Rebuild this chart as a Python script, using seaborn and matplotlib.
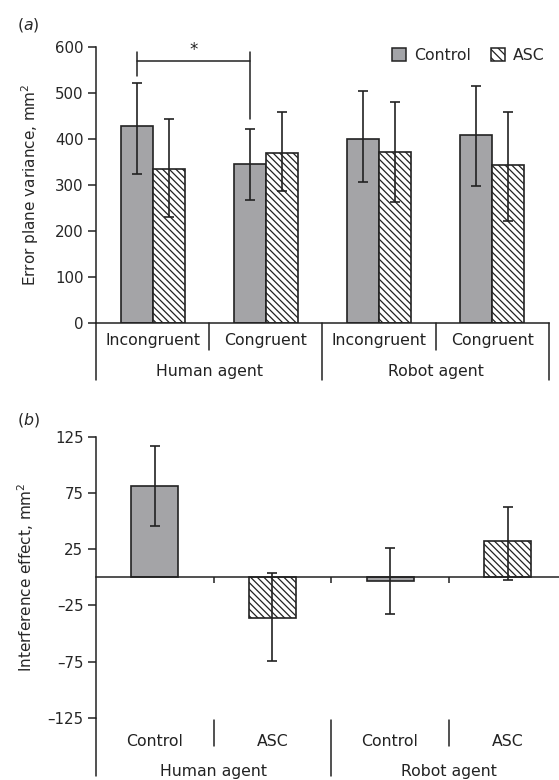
import numpy as np
import pandas as pd
import seaborn as sns
import matplotlib.pyplot as plt
from matplotlib.patches import Patch

# ---- data ----
groups = ['Control', 'ASC']
keys_a = ['H-Inc', 'H-Con', 'R-Inc', 'R-Con']
cond_labels = ['Incongruent', 'Congruent', 'Incongruent', 'Congruent']
agent_labels = ['Human agent', 'Robot agent']

control_a = [427, 345, 400, 407]
control_a_lo = [324, 267, 305, 298]
control_a_hi = [522, 422, 503, 515]
asc_a = [335, 370, 371, 342]
asc_a_lo = [229, 286, 262, 221]
asc_a_hi = [443, 459, 480, 459]

keys_b = ['H-Control', 'H-ASC', 'R-Control', 'R-ASC']
group_b = ['Control', 'ASC', 'Control', 'ASC']
effect_b = [81, -36, -3.5, 32]
effect_b_lo = [46, -74, -33, -2.3]
effect_b_hi = [117, 4, 26.5, 62.6]

sig_level = 568
sig_top = 588
sig_ends = [537, 443]

# ---- style ----
sns.set_style('ticks')
plt.rcParams['font.family'] = ['DejaVu Sans']
plt.rcParams['hatch.linewidth'] = 0.9
plt.rcParams['hatch.color'] = '#222222'
gray = '#a3a4a8'
ink = '#222222'
hatch = '\\' * 5
palette = {'Control': gray, 'ASC': 'white'}

fig = plt.figure(figsize=(5.59, 7.8), dpi=100)
ax1 = fig.add_axes([0.1717, 0.5863, 0.81, 0.3538])
ax2 = fig.add_axes([0.1717, 0.0795, 0.8417, 0.3606])

# ---- panel (a) ----
df_a = pd.DataFrame({
    'key': keys_a * 2,
    'group': ['Control'] * 4 + ['ASC'] * 4,
    'value': control_a + asc_a,
})
sns.barplot(data=df_a, x='key', y='value', hue='group', order=keys_a,
            hue_order=groups, palette=palette, width=0.565, errorbar=None,
            edgecolor=ink, linewidth=1.2, ax=ax1)
ax1.get_legend().remove()

lows = {'Control': control_a_lo, 'ASC': asc_a_lo}
highs = {'Control': control_a_hi, 'ASC': asc_a_hi}
vals = {'Control': control_a, 'ASC': asc_a}
centers = {}
for cont, g in zip(ax1.containers, groups):
    xs = [p.get_x() + p.get_width() / 2 for p in cont.patches]
    centers[g] = xs
    if g == 'ASC':
        for p in cont.patches:
            p.set_hatch(hatch)
    v = np.array(vals[g])
    yerr = [v - np.array(lows[g]), np.array(highs[g]) - v]
    ax1.errorbar(xs, v, yerr=yerr, fmt='none', ecolor=ink, elinewidth=1.2,
                 capsize=3.4, capthick=1.2, zorder=5)

# significance bracket between the two human control bars
x0, x1 = centers['Control'][0], centers['Control'][1]
ax1.plot([x0, x1], [sig_level, sig_level], color=ink, lw=1.1)
ax1.plot([x0, x0], [sig_ends[0], sig_top], color=ink, lw=1.1)
ax1.plot([x1, x1], [sig_ends[1], sig_top], color=ink, lw=1.1)
ax1.text((x0 + x1) / 2, sig_top + 4, '*', ha='center', va='center', fontsize=12, color=ink)

ax1.set_xlim(-0.5, 3.5)
ax1.set_ylim(0, 600)
ax1.set_yticks(range(0, 601, 100))
ax1.set_xticks([])
ax1.set_xlabel('')
ax1.set_ylabel('Error plane variance, mm$^2$', fontsize=11, labelpad=10)
ax1.tick_params(axis='y', labelsize=10.8, length=6, width=1.1, color=ink, pad=3)
sns.despine(ax=ax1)
for s in ['left', 'bottom']:
    ax1.spines[s].set_linewidth(1.1)
    ax1.spines[s].set_color(ink)

tr1 = ax1.get_xaxis_transform()
for xb in [-0.5, 1.5, 3.5]:
    ax1.plot([xb, xb], [0, -0.2076], transform=tr1, color=ink, lw=1.1, clip_on=False)
for xb in [0.5, 2.5]:
    ax1.plot([xb, xb], [0, -0.099], transform=tr1, color=ink, lw=1.1, clip_on=False)
for i, lab in enumerate(cond_labels):
    ax1.text(i, -0.066, lab, transform=tr1, ha='center', va='center', fontsize=11.3, color=ink)
for i, lab in enumerate(agent_labels):
    ax1.text(0.5 + 2 * i, -0.178, lab, transform=tr1, ha='center', va='center', fontsize=11.3, color=ink)

handles = [Patch(facecolor=gray, edgecolor=ink, linewidth=1.1),
           Patch(facecolor='white', edgecolor=ink, linewidth=1.1, hatch='\\' * 4)]
ax1.legend(handles, groups, ncol=2, frameon=False, loc='center right',
           bbox_to_anchor=(1.005, 0.97), handlelength=0.9, handleheight=0.9,
           handletextpad=0.5, columnspacing=1.3, fontsize=11.3, borderaxespad=0)

fig.text(0.030, 0.968, '($a$)', fontsize=11.3, va='center', ha='left')

# ---- panel (b) ----
df_b = pd.DataFrame({'key': keys_b, 'group': group_b, 'value': effect_b})
sns.barplot(data=df_b, x='key', y='value', hue='group', order=keys_b,
            hue_order=groups, palette=palette, dodge=False, width=0.4,
            errorbar=None, edgecolor=ink, linewidth=1.2, ax=ax2)
ax2.get_legend().remove()
for cont, g in zip(ax2.containers, groups):
    if g == 'ASC':
        for p in cont.patches:
            p.set_hatch(hatch)

vb = np.array(effect_b)
ax2.errorbar(np.arange(len(keys_b)), vb,
             yerr=[vb - np.array(effect_b_lo), np.array(effect_b_hi) - vb],
             fmt='none', ecolor=ink, elinewidth=1.2, capsize=3.4, capthick=1.2, zorder=5)

ax2.set_xlim(-0.5, 3.5)
ax2.set_ylim(-125, 125)
ax2.set_yticks([125, 75, 25, -25, -75, -125])
ax2.set_yticklabels(['125', '75', '25', '\u201325', '\u201375', '\u2013125'])
ax2.set_xticks([0.5, 1.5, 2.5])
ax2.set_xticklabels([])
ax2.set_xlabel('')
ax2.set_ylabel('Interference effect, mm$^2$', fontsize=11, labelpad=8)
ax2.tick_params(axis='y', labelsize=10.8, length=6, width=1.1, color=ink, pad=3)
ax2.tick_params(axis='x', length=4, width=1.1, color=ink, direction='out')
sns.despine(ax=ax2)
ax2.spines['bottom'].set_position(('data', 0))
for s in ['left', 'bottom']:
    ax2.spines[s].set_linewidth(1.1)
    ax2.spines[s].set_color(ink)

tr2 = ax2.get_xaxis_transform()
ax2.plot([-0.5, -0.5], [0, -0.206], transform=tr2, color=ink, lw=1.1, clip_on=False)
ax2.plot([1.5, 1.5], [-0.007, -0.206], transform=tr2, color=ink, lw=1.1, clip_on=False)
for xb in [0.5, 2.5]:
    ax2.plot([xb, xb], [-0.007, -0.0985], transform=tr2, color=ink, lw=1.1, clip_on=False)
for i, g in enumerate(group_b):
    ax2.text(i, -0.084, g, transform=tr2, ha='center', va='center', fontsize=11.3, color=ink)
for i, lab in enumerate(agent_labels):
    ax2.text(0.5 + 2 * i, -0.191, lab, transform=tr2, ha='center', va='center', fontsize=11.3, color=ink)

fig.text(0.030, 0.4615, '($b$)', fontsize=11.3, va='center', ha='left')

fig.savefig('out.png', dpi=100)
